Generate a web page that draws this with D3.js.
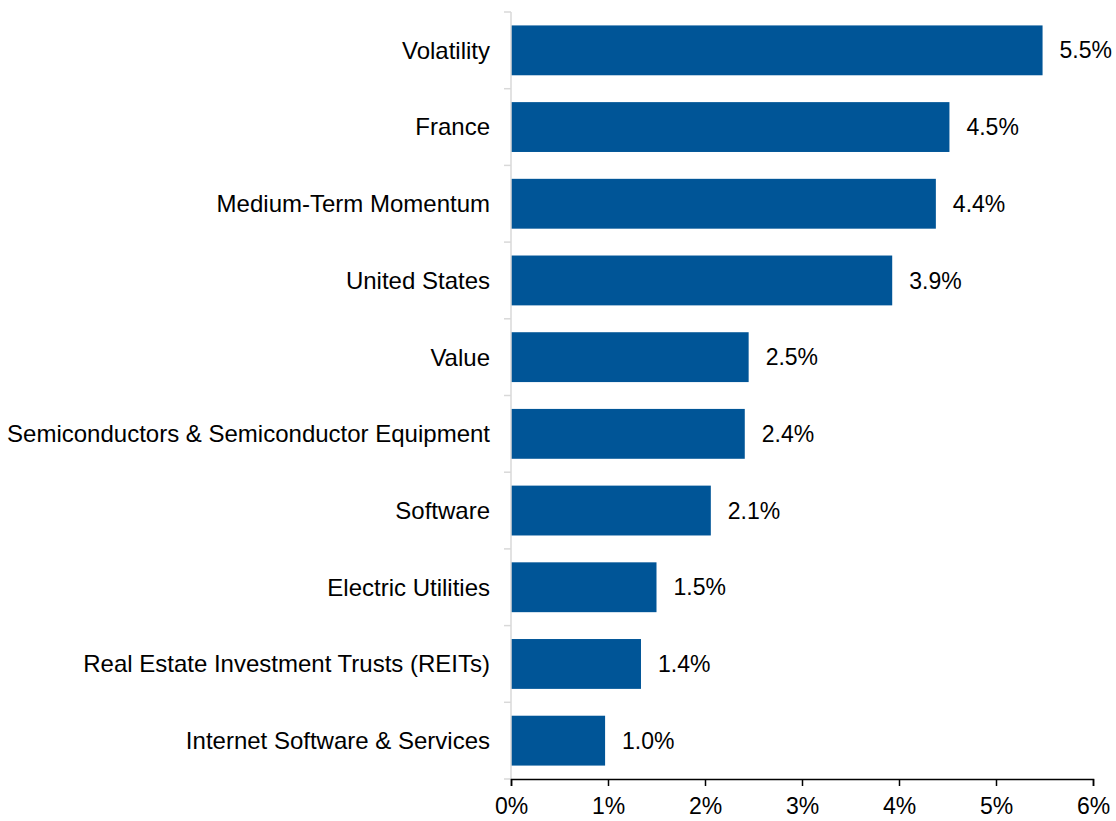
<!DOCTYPE html>
<html>
<head>
<meta charset="utf-8">
<script src="https://cdn.jsdelivr.net/npm/d3@7"></script>
<style>
  body { margin: 0; background: #fff; }
  text { font-family: "Liberation Sans", Arial, sans-serif; fill: #000; }
</style>
</head>
<body>
<div id="chart"></div>
<script>
const categories = [
  'Volatility',
  'France',
  'Medium-Term Momentum',
  'United States',
  'Value',
  'Semiconductors & Semiconductor Equipment',
  'Software',
  'Electric Utilities',
  'Real Estate Investment Trusts (REITs)',
  'Internet Software & Services'
];
const values = [5.48, 4.52, 4.38, 3.93, 2.45, 2.41, 2.06, 1.50, 1.34, 0.97];
const valueLabels = ['5.5%', '4.5%', '4.4%', '3.9%', '2.5%', '2.4%', '2.1%', '1.5%', '1.4%', '1.0%'];
const xTicks = [0, 1, 2, 3, 4, 5, 6];

const W = 1116, H = 821;
const margin = { top: 12, right: 23, bottom: 42, left: 511 };
const width = W - margin.left - margin.right;
const height = H - margin.top - margin.bottom;

const data = categories.map((c, i) => ({ name: c, value: values[i], label: valueLabels[i] }));

var svg = d3.select('#chart')
  .append('svg')
  .attr('width', W)
  .attr('height', H)
  .append('g')
  .attr('transform', 'translate(' + margin.left + ',' + margin.top + ')');

var xScale = d3.scaleLinear()
  .domain([0, 6])
  .range([0, width]);

var yScale = d3.scaleBand()
  .domain(categories)
  .range([0, height])
  .paddingInner(0.35)
  .paddingOuter(0.175);

// bars
svg.selectAll('.bar')
  .data(data)
  .enter().append('rect')
  .attr('class', 'bar')
  .attr('x', 0)
  .attr('y', d => yScale(d.name))
  .attr('width', d => xScale(d.value))
  .attr('height', yScale.bandwidth())
  .style('fill', '#005597');

// y axis: light grey line with ticks between categories
svg.append('line')
  .attr('x1', 0).attr('x2', 0)
  .attr('y1', 0).attr('y2', height)
  .style('stroke', '#d9d9d9')
  .style('stroke-width', 1.5);

const sepY = d3.range(categories.length + 1).map(i => i * height / categories.length);
svg.selectAll('.ytick')
  .data(sepY)
  .enter().append('line')
  .attr('class', 'ytick')
  .attr('x1', -7).attr('x2', 0)
  .attr('y1', d => d).attr('y2', d => d)
  .style('stroke', '#d9d9d9')
  .style('stroke-width', 1.5);

// category labels
svg.selectAll('.cat')
  .data(data)
  .enter().append('text')
  .attr('class', 'cat')
  .attr('x', -21)
  .attr('y', d => yScale(d.name) + yScale.bandwidth() / 2)
  .attr('dy', '.35em')
  .attr('text-anchor', 'end')
  .style('font-size', '24px')
  .text(d => d.name);

// value labels
svg.selectAll('.val')
  .data(data)
  .enter().append('text')
  .attr('class', 'val')
  .attr('x', d => xScale(d.value) + 17)
  .attr('y', d => yScale(d.name) + yScale.bandwidth() / 2)
  .attr('dy', '.35em')
  .style('font-size', '23px')
  .text(d => d.label);

// x axis
var xAxis = d3.axisBottom(xScale)
  .tickValues(xTicks)
  .tickSize(7)
  .tickFormat(d => d + '%');

var gx = svg.append('g')
  .attr('transform', 'translate(0,' + height + ')')
  .call(xAxis);

gx.select('.domain').attr('stroke', '#000').attr('stroke-width', 1.5);
gx.selectAll('.tick line').attr('stroke', '#000').attr('stroke-width', 1.5);
gx.selectAll('.tick text')
  .attr('y', 19)
  .style('font-size', '23px')
  .style('font-family', '"Liberation Sans", Arial, sans-serif')
  .attr('fill', '#000');
</script>
</body>
</html>
